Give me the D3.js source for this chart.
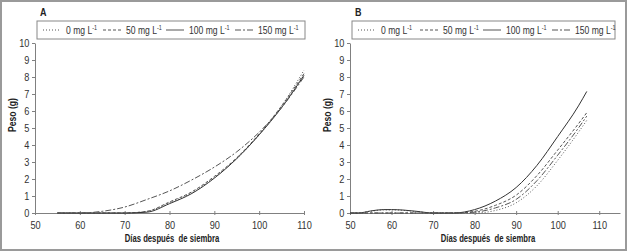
<!DOCTYPE html>
<html>
<head>
<meta charset="utf-8">
<script src="https://cdn.jsdelivr.net/npm/d3@7/dist/d3.min.js"></script>
<style>
  body { margin: 0; background: #fff; }
  svg { display: block; font-family: 'Liberation Sans', Arial, sans-serif; }
  svg text { white-space: pre; }
</style>
</head>
<body>
<div id="chart"></div>
<script>
const svgWidth = 627;
const svgHeight = 252;

// shared labels / ticks
const seriesLabels = ["0 mg L", "50 mg L", "100 mg L", "150 mg L"];
const seriesSup = "-1";
const yTicks = [0, 1, 2, 3, 4, 5, 6, 7, 8, 9, 10];
const xTicks = [50, 60, 70, 80, 90, 100, 110];

// panel A
const daysA = [55, 60, 65, 70, 75, 80, 85, 90, 95, 100, 105, 110];
const pesoA_0 = [0, 0, 0, 0, 0.1, 0.6, 1.2, 2.1, 3.2, 4.6, 6.3, 8.4];
const pesoA_50 = [0, 0, 0, 0, 0.1, 0.65, 1.25, 2.15, 3.25, 4.65, 6.3, 8.2];
const pesoA_100 = [0, 0, 0, 0, 0.05, 0.55, 1.15, 2.05, 3.2, 4.6, 6.2, 8.1];
const pesoA_150 = [0, 0, 0.1, 0.35, 0.8, 1.3, 1.95, 2.7, 3.6, 4.75, 6.2, 8.0];

// panel B
const daysB = [50, 52, 55, 58, 60, 63, 66, 70, 75, 80, 85, 90, 95, 100, 105, 107];
const pesoB_0 = [0, 0, 0.1, 0.18, 0.18, 0.15, 0.08, 0, 0, 0, 0.15, 0.6, 1.6, 3.1, 4.75, 5.45];
const pesoB_50 = [0, 0, 0, 0, 0, 0, 0, 0, 0, 0.1, 0.45, 1.05, 2.2, 3.7, 5.25, 5.9];
const pesoB_100 = [0, 0, 0.12, 0.2, 0.2, 0.17, 0.1, 0, 0, 0.2, 0.7, 1.5, 2.8, 4.5, 6.3, 7.15];
const pesoB_150 = [0, 0, 0, 0, 0, 0, 0, 0, 0, 0.05, 0.3, 0.8, 1.9, 3.4, 5.0, 5.7];

const dashes = ["1,2", "3,2", null, "6,2,2,2"];

const svg = d3.select("#chart")
    .append("svg")
    .attr("width", svgWidth)
    .attr("height", svgHeight);

// outer frame
svg.append("rect")
    .attr("x", 1).attr("y", 1)
    .attr("width", svgWidth - 2).attr("height", svgHeight - 3)
    .attr("fill", "none")
    .attr("stroke", "#9a9a9a")
    .attr("stroke-width", 2);

// narrow text: squeeze horizontally like Arial Narrow
function narrowText(parent, x, y, sx, txt, size, bold, anchor, rotate) {
    const t = parent.append("text")
        .attr("transform", `translate(${x},${y})` + (rotate ? " rotate(-90)" : "") + ` scale(${sx},1)`)
        .attr("text-anchor", anchor || "start")
        .style("font-size", size + "px")
        .style("font-weight", bold ? "bold" : "normal")
        .attr("fill", "#222");
    if (txt !== null) t.text(txt);
    return t;
}

function drawPanel(p) {
    const x = d3.scaleLinear().domain(p.xDomain).range([p.left, p.right]);
    const y = d3.scaleLinear().domain([0, 10]).range([213, 43]);
    const g = svg.append("g");

    // y axis
    const ya = g.append("g")
        .attr("transform", `translate(${p.left},0)`)
        .call(d3.axisLeft(y).tickValues(yTicks).tickSize(3).tickSizeOuter(0).tickPadding(2));
    // x axis
    const xa = g.append("g")
        .attr("transform", `translate(0,${y(0)})`)
        .call(d3.axisBottom(x).tickValues(xTicks).tickSize(2).tickSizeOuter(0).tickPadding(6));
    xa.selectAll(".tick line").attr("y1", -2);
    [ya, xa].forEach(a => {
        a.select(".domain").attr("stroke", "#808080");
        a.selectAll(".tick line").attr("stroke", "#808080");
        a.selectAll("text").attr("fill", "#333")
            .style("font-size", "11.5px")
            .attr("transform", "scale(0.8,1)");
    });
    ya.selectAll("text").attr("x", -7);

    // curves
    const line = d3.line()
        .x((d, i) => x(p.days[i]))
        .y(d => y(d))
        .curve(d3.curveMonotoneX);
    p.series.forEach((s, i) => {
        g.append("path")
            .attr("d", line(s))
            .attr("fill", "none")
            .attr("stroke", i === 2 ? "#333" : "#555")
            .attr("stroke-width", 1)
            .attr("stroke-dasharray", dashes[i]);
    });

    // panel letter
    narrowText(g, p.left + 5, 16, 0.9, p.letter, 10, true);

    // legend
    const lg = g.append("g");
    lg.append("rect")
        .attr("x", p.legend.x).attr("y", 21)
        .attr("width", p.legend.w).attr("height", 18)
        .attr("fill", "#fff").attr("stroke", "#888");
    seriesLabels.forEach((lab, i) => {
        const lx = p.legend.items[i];
        lg.append("line")
            .attr("x1", lx).attr("x2", lx + 18)
            .attr("y1", 30).attr("y2", 30)
            .attr("stroke", "#555")
            .attr("stroke-dasharray", dashes[i]);
        const t = narrowText(lg, lx + 23, 34, 0.78, null, 11, false);
        t.attr("fill", "#333");
        t.append("tspan").text(lab);
        t.append("tspan").attr("dy", -4).style("font-size", "7px").text(seriesSup);
    });

    // axis titles
    narrowText(g, p.left - 19, 115, 0.78, "Peso (g)", 11, true, "middle", true);
    narrowText(g, p.titleX, 242, 0.7, "Días después  de siembra", 11, true, "middle");
}

drawPanel({
    letter: "A", left: 35, right: 304, xDomain: [50, 110], titleX: 172,
    days: daysA, series: [pesoA_0, pesoA_50, pesoA_100, pesoA_150],
    legend: { x: 37, w: 268, items: [43, 103, 166, 235] }
});
drawPanel({
    letter: "B", left: 350, right: 620, xDomain: [50, 115], titleX: 488,
    days: daysB, series: [pesoB_0, pesoB_50, pesoB_100, pesoB_150],
    legend: { x: 352, w: 263, items: [358, 420, 483, 552] }
});
</script>
</body>
</html>
